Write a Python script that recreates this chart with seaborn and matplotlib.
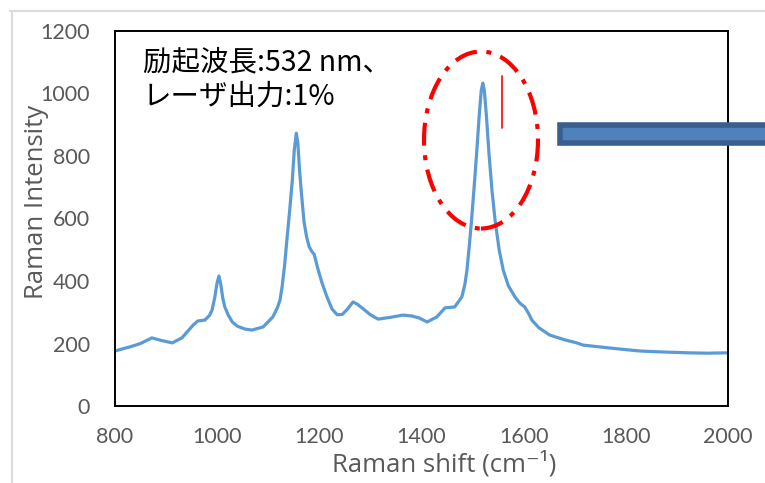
import matplotlib
matplotlib.use("Agg")
import matplotlib.pyplot as plt
import seaborn as sns
import pandas as pd
from matplotlib.patches import Ellipse, Rectangle
from matplotlib.lines import Line2D

# ---- data ----
raman_shift = [800, 815, 829, 850, 872, 890, 912, 931, 953, 962, 976, 985, 990, 995,
               1000, 1003.5, 1007, 1011, 1015, 1022, 1030, 1040, 1055, 1068, 1090,
               1109, 1118, 1123, 1127, 1132, 1137, 1142, 1147, 1151, 1155, 1158, 1161,
               1165, 1170, 1175, 1180, 1185, 1190, 1197, 1205, 1215, 1225, 1235, 1245,
               1255, 1266, 1275, 1285, 1300, 1315, 1340, 1364, 1381, 1395, 1411, 1430,
               1446, 1465, 1479, 1485, 1489, 1494, 1498, 1503, 1508, 1513, 1517, 1520,
               1523, 1527, 1532, 1538, 1544, 1552, 1560, 1570, 1583, 1592, 1602, 1610,
               1616, 1630, 1651, 1680, 1704, 1716, 1749, 1790, 1827, 1870, 1925, 1960,
               1994, 2000]
intensity = [176, 183, 189, 200, 218, 210, 202, 218, 259, 272, 275, 290, 307, 345,
             395, 416, 390, 345, 317, 290, 268, 255, 246, 243, 253,
             285, 315, 339, 380, 450, 540, 627, 720, 820, 873, 840, 760,
             680, 590, 542, 510, 495, 485, 440, 395, 349, 310, 292, 293,
             310, 333, 325, 312, 292, 278, 284, 291, 288, 282, 269, 285,
             314, 317, 349, 390, 435, 520, 595, 700, 810, 930, 1010, 1033,
             1010, 930, 810, 690, 595, 500, 435, 385, 349, 330, 317, 295,
             275, 250, 227, 212, 202, 195, 189, 182, 176, 173, 170, 169,
             170, 170]
x_ticks = [800, 1000, 1200, 1400, 1600, 1800, 2000]
y_ticks = [0, 200, 400, 600, 800, 1000, 1200]
x_label = "Raman shift (cm\u207b\u00b9)"
y_label = "Raman Intensity"
note_lines = ["励起波長:532 nm、", "レーザ出力:1%"]

sns.set_theme(style="white")
plt.rcParams['font.family'] = ['Lato', 'DejaVu Sans']

W, H = 765, 483
fig = plt.figure(figsize=(W / 100, H / 100), dpi=100)
fig.patch.set_facecolor('white')

def fx(px):
    return px / W

def fy(py):
    return 1 - py / H

ax_l, ax_r, ax_t, ax_b = 115, 728, 31, 406
ax = fig.add_axes([fx(ax_l), fy(ax_b), (ax_r - ax_l) / W, (ax_b - ax_t) / H])

df = pd.DataFrame({"shift": raman_shift, "intensity": intensity})
sns.lineplot(data=df, x="shift", y="intensity", ax=ax, color="#5B9BD5",
             linewidth=2.3, sort=False)

ax.set_xlim(800, 2000)
ax.set_ylim(0, 1200)
ax.set_xticks(x_ticks)
ax.set_yticks(y_ticks)
for s in ax.spines.values():
    s.set_color("black")
    s.set_linewidth(1.4)
ax.tick_params(direction="in", length=6.5, width=1.4, color="black",
               labelcolor="#595959", labelsize=15.5)
ax.tick_params(axis="y", pad=18)
ax.tick_params(axis="x", pad=15)
ax.grid(False)

lab_font = ['Open Sans', 'DejaVu Sans']
ax.set_xlabel(x_label, fontsize=18.5, color="#595959", family=lab_font)
ax.set_ylabel(y_label, fontsize=18.5, color="#595959", family=lab_font)
ax.xaxis.label.set_verticalalignment("center")
ax.yaxis.label.set_verticalalignment("center")
ax.xaxis.set_label_coords((444.5 - ax_l) / (ax_r - ax_l), (ax_b - 464) / (ax_b - ax_t))
ax.yaxis.set_label_coords((37 - ax_l) / (ax_r - ax_l), (ax_b - 201.5) / (ax_b - ax_t))

# annotation text
cjk = ['Noto Sans CJK JP', 'DejaVu Sans']
fig.text(fx(143), fy(62), note_lines[0], family=cjk, fontsize=20.5, color="black",
         ha="left", va="center")
fig.text(fx(143), fy(97), note_lines[1], family=cjk, fontsize=20.5, color="black",
         ha="left", va="center")

# red dash-dot ellipse around main peak
ell = Ellipse((fx(481), fy(140)), width=114 / W, height=177 / H,
              transform=fig.transFigure, fill=False, edgecolor="#FF0000",
              linewidth=3.0, linestyle=(0, (5.5, 2.3, 1.2, 2.3)))
ell.set_capstyle("butt")
fig.add_artist(ell)
fig.add_artist(Line2D([fx(502), fx(502)], [fy(76), fy(128)], transform=fig.transFigure,
                      color="#FF0000", linewidth=1.2))

# blue arrow bar
bar = Rectangle((fx(560), fy(143.2)), (W + 20 - 560) / W, (143.2 - 125.2) / H,
                transform=fig.transFigure, facecolor="#4F81BD", edgecolor="#3A5F8C",
                linewidth=4.0, clip_on=False)
fig.add_artist(bar)

# light outer frame
fig.add_artist(Line2D([fx(10), fx(W)], [fy(10.5), fy(10.5)], transform=fig.transFigure,
                      color="#dcdcdc", linewidth=1.6))
fig.add_artist(Line2D([fx(11.5), fx(11.5)], [fy(10.5), fy(H)], transform=fig.transFigure,
                      color="#dcdcdc", linewidth=1.6))

fig.savefig("out.png", dpi=100)
